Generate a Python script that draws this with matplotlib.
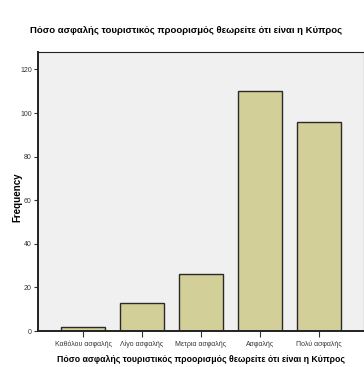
import matplotlib
matplotlib.use("Agg")
import matplotlib.pyplot as plt

# responses about how safe Cyprus is as a destination
categories = ["Καθόλου ασφαλής", "Λίγο ασφαλής", "Μετρια ασφαλής", "Ασφαλής", "Πολύ ασφαλής"]
frequency = [2, 13, 26, 110, 96]
yticks = [0, 20, 40, 60, 80, 100, 120]

title = "Πόσο ασφαλής τουριστικός προορισμός θεωρείτε ότι είναι η Κύπρος"

plt.rcParams["font.family"] = ["Liberation Sans", "DejaVu Sans"]

fig = plt.figure(figsize=(3.64, 3.67), dpi=100)
fig.patch.set_facecolor("white")
ax = fig.add_axes([38 / 364, 36 / 367, 326 / 364, 279 / 367])
ax.set_facecolor("#f0f0f0")

x = range(len(categories))
ax.bar(x, frequency, width=0.75, color="#d3cf98", edgecolor="#2a2a2a", linewidth=1.0)

ax.set_xlim(-0.763, 4.763)
ax.set_ylim(0, 128)
ax.set_yticks(yticks)
ax.set_yticklabels([str(v) for v in yticks], fontsize=5, color="#333333")
ax.set_xticks(list(x))
ax.set_xticklabels(categories, fontsize=5, color="#333333")
ax.tick_params(axis="both", length=3, width=0.8, color="#333333", pad=1.5)
ax.tick_params(axis="x", length=4, pad=3)

for s in ax.spines.values():
    s.set_color("#222222")
    s.set_linewidth(0.8)
ax.spines["left"].set_linewidth(1.4)
ax.spines["bottom"].set_linewidth(1.4)

ax.set_ylabel("Frequency", fontsize=7, fontweight="bold", va="center")
ax.yaxis.set_label_coords(-0.064, 0.48)
ax.set_xlabel(title, fontsize=6.3, fontweight="bold", labelpad=5)
fig.text(0.51, 0.918, title, ha="center", va="center", fontsize=6.8, fontweight="bold")

fig.savefig("out.png", dpi=100)
